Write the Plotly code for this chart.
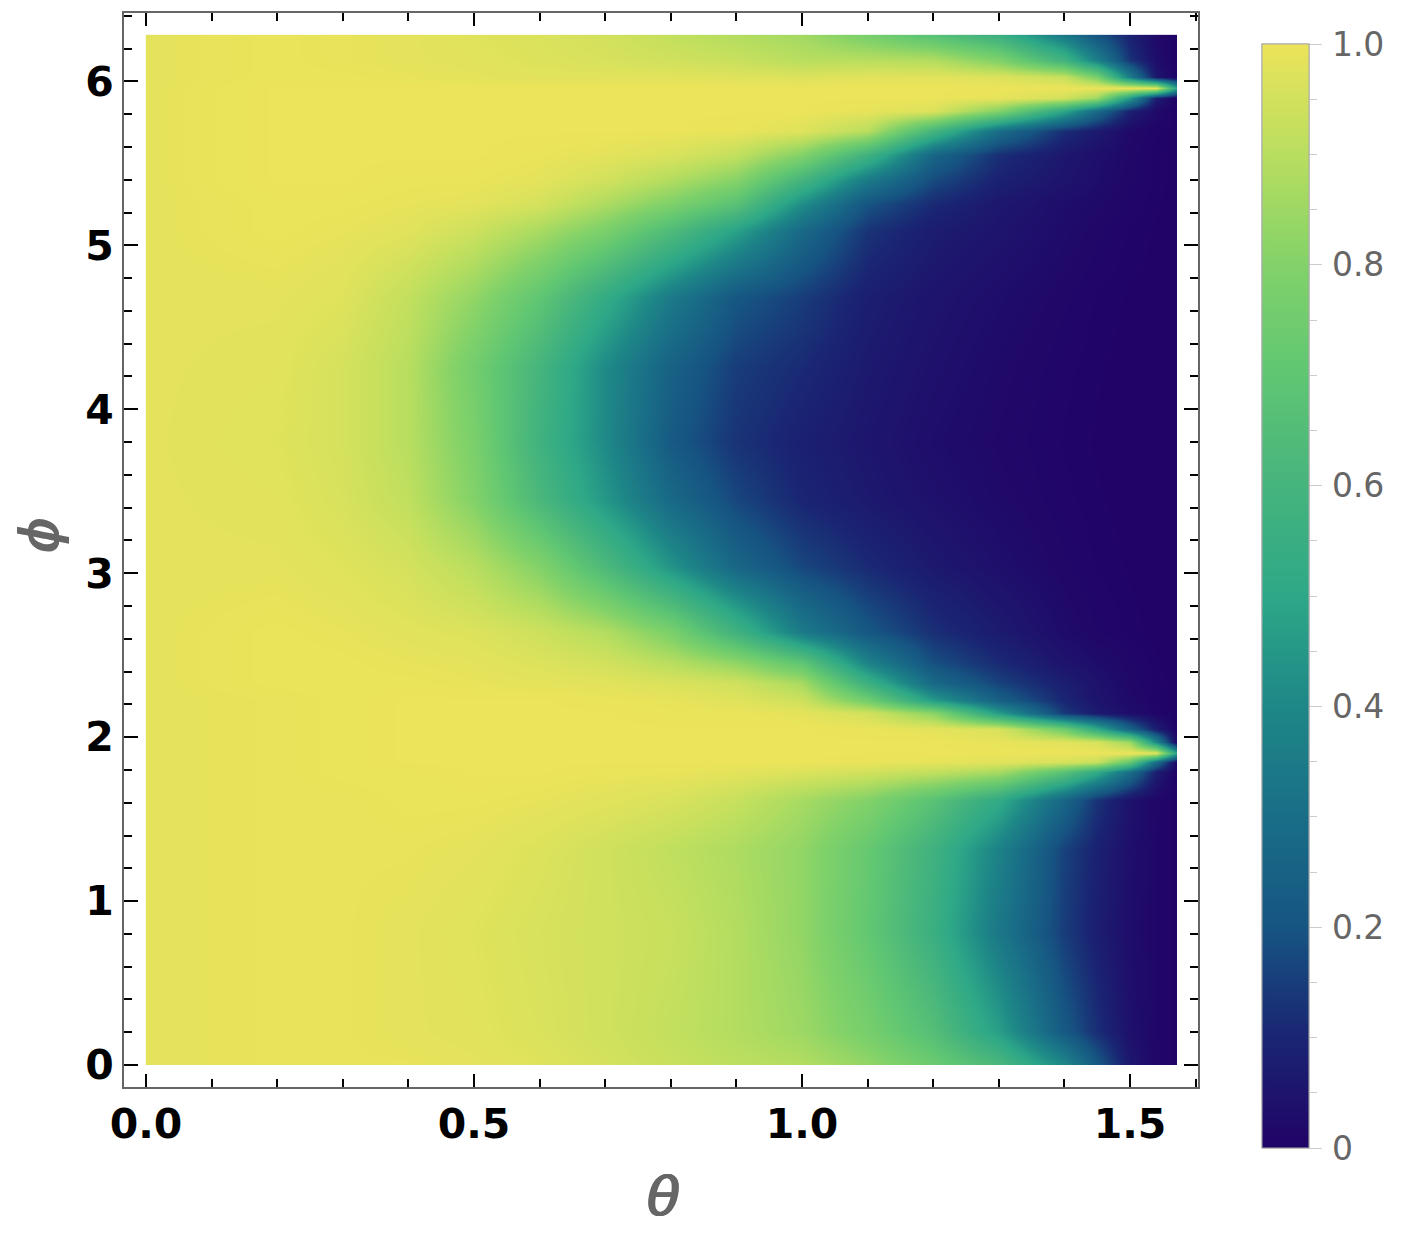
import plotly.graph_objects as go

theta = [0, 0.2, 0.3, 0.4, 0.5, 0.6, 0.7, 0.8, 0.9, 1.0, 1.1, 1.2, 1.3, 1.4, 1.45, 1.5, 1.54, 1.5708]
phi = [0, 0.2, 0.81, 1.31, 1.62, 1.79, 1.85, 1.906, 1.97, 2.05, 2.15, 2.23, 2.33, 2.45, 2.64, 3.04, 3.45,
       3.8, 4.25, 4.68, 5.09, 5.25, 5.4, 5.55, 5.7, 5.82, 5.9, 5.96, 6.03, 6.13, 6.2832]

# one row per phi
fidelity = [
    [0.985, 0.99, 0.99, 0.99, 0.985, 0.975, 0.955, 0.93, 0.91, 0.89, 0.83, 0.74, 0.62, 0.40, 0.22, 0.06, 0.015, 0.0],
    [0.985, 0.99, 0.99, 0.985, 0.98, 0.965, 0.945, 0.92, 0.89, 0.85, 0.77, 0.66, 0.47, 0.22, 0.12, 0.04, 0.01, 0.0],
    [0.985, 0.99, 0.99, 0.985, 0.975, 0.96, 0.945, 0.93, 0.89, 0.83, 0.71, 0.56, 0.34, 0.15, 0.08, 0.03, 0.01, 0.0],
    [0.985, 0.99, 0.99, 0.99, 0.985, 0.97, 0.945, 0.915, 0.88, 0.83, 0.72, 0.58, 0.38, 0.16, 0.09, 0.035, 0.01, 0.0],
    [0.985, 0.99, 0.99, 0.995, 0.995, 0.99, 0.98, 0.965, 0.93, 0.87, 0.80, 0.68, 0.52, 0.27, 0.13, 0.045, 0.012, 0.0],
    [0.985, 0.99, 0.995, 0.995, 1.0, 1.0, 0.995, 0.995, 0.985, 0.97, 0.95, 0.92, 0.87, 0.68, 0.52, 0.30, 0.08, 0.0],
    [0.985, 0.99, 0.995, 1.0, 1.0, 1.0, 1.0, 1.0, 1.0, 1.0, 0.995, 0.99, 0.98, 0.96, 0.93, 0.72, 0.30, 0.02],
    [0.985, 0.99, 0.995, 1.0, 1.0, 1.0, 1.0, 1.0, 1.0, 1.0, 1.0, 1.0, 1.0, 1.0, 1.0, 1.0, 0.98, 0.50],
    [0.985, 0.99, 0.995, 1.0, 1.0, 1.0, 1.0, 1.0, 1.0, 1.0, 1.0, 1.0, 0.99, 0.98, 0.96, 0.85, 0.40, 0.02],
    [0.985, 0.99, 0.995, 1.0, 1.0, 1.0, 1.0, 1.0, 1.0, 1.0, 0.995, 0.985, 0.96, 0.75, 0.52, 0.26, 0.08, 0.0],
    [0.985, 0.99, 0.995, 1.0, 1.0, 1.0, 1.0, 0.995, 0.995, 0.985, 0.95, 0.82, 0.46, 0.14, 0.07, 0.03, 0.006, 0.0],
    [0.985, 0.99, 0.995, 1.0, 1.0, 1.0, 0.995, 0.99, 0.975, 0.94, 0.75, 0.46, 0.24, 0.10, 0.05, 0.02, 0.004, 0.0],
    [0.985, 0.995, 0.995, 0.995, 0.99, 0.985, 0.98, 0.965, 0.945, 0.87, 0.56, 0.28, 0.16, 0.08, 0.045, 0.015, 0.003, 0.0],
    [0.985, 0.995, 0.995, 0.99, 0.985, 0.97, 0.95, 0.90, 0.83, 0.70, 0.38, 0.19, 0.11, 0.05, 0.03, 0.012, 0.002, 0.0],
    [0.985, 0.995, 0.99, 0.98, 0.97, 0.94, 0.89, 0.78, 0.58, 0.35, 0.21, 0.12, 0.07, 0.025, 0.01, 0.003, 0.0, 0.0],
    [0.985, 0.985, 0.975, 0.955, 0.90, 0.80, 0.63, 0.44, 0.27, 0.17, 0.11, 0.065, 0.035, 0.012, 0.004, 0.001, 0.0, 0.0],
    [0.985, 0.98, 0.96, 0.915, 0.80, 0.62, 0.45, 0.28, 0.17, 0.10, 0.065, 0.04, 0.02, 0.006, 0.002, 0.0, 0.0, 0.0],
    [0.985, 0.975, 0.955, 0.90, 0.78, 0.58, 0.41, 0.22, 0.13, 0.085, 0.055, 0.03, 0.015, 0.004, 0.001, 0.0, 0.0, 0.0],
    [0.985, 0.98, 0.955, 0.90, 0.76, 0.60, 0.41, 0.25, 0.15, 0.11, 0.065, 0.04, 0.02, 0.006, 0.002, 0.0, 0.0, 0.0],
    [0.985, 0.985, 0.975, 0.92, 0.83, 0.70, 0.53, 0.35, 0.21, 0.15, 0.08, 0.05, 0.03, 0.012, 0.004, 0.001, 0.0, 0.0],
    [0.985, 0.995, 0.99, 0.98, 0.94, 0.87, 0.78, 0.64, 0.48, 0.28, 0.13, 0.075, 0.05, 0.025, 0.012, 0.004, 0.001, 0.0],
    [0.985, 0.995, 0.995, 0.99, 0.985, 0.955, 0.88, 0.79, 0.68, 0.42, 0.20, 0.11, 0.06, 0.03, 0.02, 0.008, 0.002, 0.0],
    [0.985, 1.0, 1.0, 0.995, 0.995, 0.985, 0.95, 0.89, 0.81, 0.60, 0.35, 0.18, 0.09, 0.05, 0.03, 0.012, 0.003, 0.0],
    [0.985, 1.0, 1.0, 1.0, 1.0, 0.995, 0.985, 0.965, 0.92, 0.80, 0.58, 0.27, 0.12, 0.06, 0.035, 0.014, 0.003, 0.0],
    [0.985, 1.0, 1.0, 1.0, 1.0, 1.0, 1.0, 1.0, 0.995, 0.975, 0.90, 0.60, 0.30, 0.12, 0.07, 0.02, 0.005, 0.0],
    [0.985, 1.0, 1.0, 1.0, 1.0, 1.0, 1.0, 1.0, 1.0, 1.0, 0.99, 0.97, 0.80, 0.50, 0.28, 0.09, 0.02, 0.0],
    [0.985, 1.0, 1.0, 1.0, 1.0, 1.0, 1.0, 1.0, 1.0, 1.0, 1.0, 1.0, 0.99, 0.95, 0.85, 0.45, 0.08, 0.0],
    [0.985, 1.0, 1.0, 1.0, 1.0, 1.0, 1.0, 1.0, 1.0, 1.0, 1.0, 1.0, 1.0, 1.0, 1.0, 1.0, 0.99, 0.50],
    [0.985, 0.995, 0.995, 0.99, 0.985, 0.98, 0.98, 0.98, 0.975, 0.97, 0.98, 0.98, 0.97, 0.93, 0.78, 0.36, 0.06, 0.0],
    [0.985, 0.995, 0.99, 0.985, 0.98, 0.97, 0.96, 0.945, 0.93, 0.90, 0.90, 0.89, 0.79, 0.58, 0.37, 0.13, 0.03, 0.0],
    [0.985, 0.995, 0.99, 0.985, 0.975, 0.965, 0.95, 0.92, 0.89, 0.86, 0.77, 0.67, 0.56, 0.34, 0.20, 0.09, 0.02, 0.0],
]

cmap_stops = [0, 0.1, 0.2, 0.3, 0.4, 0.5, 0.6, 0.7, 0.8, 0.9, 1.0]
cmap_colors = ["#210367", "#1a2573", "#165582", "#196e87", "#1e8787", "#2da887",
               "#46b47d", "#5fc673", "#82d269", "#b9de5f", "#ece45a"]
colorscale = [[s, c] for s, c in zip(cmap_stops, cmap_colors)]

major_ticks = [0, 0.2, 0.4, 0.6, 0.8, 1.0]
major_labels = ["\u200a0", "\u200a0.2", "\u200a0.4", "\u200a0.6", "\u200a0.8", "\u200a1.0"]
minor_ticks = [0.05, 0.1, 0.15, 0.25, 0.3, 0.35, 0.45, 0.5, 0.55, 0.65, 0.7, 0.75, 0.85, 0.9, 0.95]

# heatmap cells reach half a step past the first and last sample, so repeat the
# edge samples a hair inside to stop the image right at the data limits
edge = 0.0002
theta_grid = [theta[0], theta[0] + edge] + theta[1:-1] + [theta[-1] - edge, theta[-1]]
phi_grid = [phi[0], phi[0] + edge] + phi[1:-1] + [phi[-1] - edge, phi[-1]]
padded = [[r[0]] + r + [r[-1]] for r in fidelity]
z_grid = [padded[0]] + padded + [padded[-1]]

bar = dict(
    xref="paper", x=1138 / 1074, xanchor="left", xpad=0,
    yref="paper", y=-61 / 1074, yanchor="bottom", ypad=0,
    lenmode="pixels", len=1104, thickness=47,
    outlinecolor="#aaaaaa", outlinewidth=1,
    ticks="outside", tickcolor="#cccccc", tickwidth=1,
    tickfont=dict(family="DejaVu Sans", size=33, color="#666666"),
)

fig = go.Figure()

fig.add_trace(
    go.Heatmap(
        x=theta_grid, y=phi_grid, z=z_grid,
        zmin=0, zmax=1,
        zsmooth="best",
        colorscale=colorscale,
        colorbar=dict(bar, tickmode="array", tickvals=major_ticks, ticktext=major_labels, ticklen=13),
    )
)

# second colorbar on top only for the short ticks
fig.add_trace(
    go.Heatmap(
        x=theta_grid, y=phi_grid, z=z_grid,
        zmin=0, zmax=1,
        zsmooth="best",
        colorscale=colorscale,
        colorbar=dict(bar, tickmode="array", tickvals=minor_ticks,
                      ticktext=[""] * len(minor_ticks), ticklen=8),
    )
)

axis_style = dict(
    showline=True, linecolor="#666666", linewidth=2, mirror="ticks",
    ticks="inside", tickcolor="#000000", tickwidth=2,
    showgrid=False, zeroline=False,
    tickfont=dict(family="DejaVu Sans", size=41, weight="bold", color="#000000"),
)
# regular oblique has the right width, the shadow thickens the stroke
title_font = dict(family="DejaVu Sans", size=54, style="italic", color="#666666",
                  shadow="1px 0 #666666, -1px 0 #666666")

fig.update_xaxes(
    axis_style,
    range=[-0.0335, 1.6037],
    tick0=0, dtick=0.5, tickformat=".1f", ticklen=13,
    minor=dict(ticks="inside", dtick=0.1, tick0=0, ticklen=8, tickcolor="#000000", tickwidth=2, showgrid=False),
)
fig.update_yaxes(
    axis_style,
    range=[-0.134, 6.417],
    tick0=0, dtick=1, ticklen=14,
    minor=dict(ticks="inside", dtick=0.2, tick0=0, ticklen=8, tickcolor="#000000", tickwidth=2, showgrid=False),
)

# axis titles as annotations, the phi one sits higher than the axis middle
fig.add_annotation(text="θ", font=title_font, showarrow=False,
                   xref="paper", yref="paper", x=539 / 1074, y=-109 / 1074,
                   xanchor="center", yanchor="middle")
fig.add_annotation(text="ϕ", font=title_font, showarrow=False, textangle=-90,
                   xref="paper", yref="paper", x=-85 / 1074, y=552 / 1074,
                   xanchor="center", yanchor="middle")

# the page body adds an 8px margin around the figure
fig.update_layout(
    width=1391, height=1224,
    margin=dict(l=116, r=201, t=5, b=145, autoexpand=False),
    paper_bgcolor="white", plot_bgcolor="white",
    showlegend=False,
)

fig.write_html("out.html")
